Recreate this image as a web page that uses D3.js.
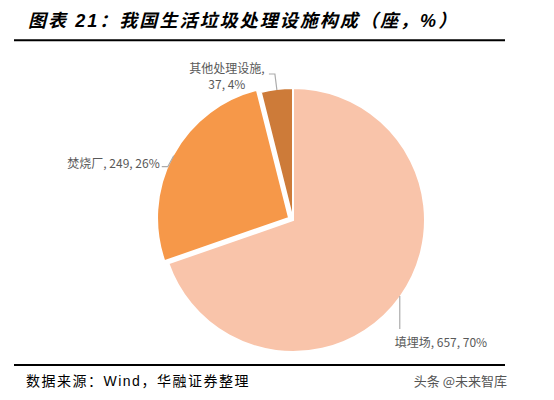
<!DOCTYPE html>
<html><head><meta charset="utf-8">
<script src="https://cdn.jsdelivr.net/npm/d3@7"></script>
<style>
html,body{margin:0;padding:0;background:#fff;}
svg{display:block;}
</style></head>
<body>
<svg id="c" width="554" height="400"></svg>
<script>
const categories = ["填埋场", "焚烧厂", "其他处理设施"];
const values = [657, 249, 37];
const percentLabels = ["70%", "26%", "4%"];
const colors = ["#F9C4AA", "#F69849", "#CD7B39"];

const svg = d3.select("#c");
const cx = 293, cy = 220, R = 132;

// title
svg.append("text")
  .attr("x", 28).attr("y", 27)
  .attr("font-family", "'Liberation Sans','Noto Sans CJK SC',sans-serif")
  .attr("font-size", 18).attr("font-weight", "bold").attr("font-style", "italic")
  .attr("letter-spacing", 2.05)
  .attr("fill", "#000")
  .text("图表 21：我国生活垃圾处理设施构成（座，%）");

svg.append("line").attr("x1", 14).attr("x2", 505).attr("y1", 40.3).attr("y2", 40.3)
  .attr("stroke", "#000").attr("stroke-width", 2);
svg.append("line").attr("x1", 14).attr("x2", 505).attr("y1", 365).attr("y2", 365)
  .attr("stroke", "#000").attr("stroke-width", 2);

svg.append("text")
  .attr("x", 26).attr("y", 386)
  .attr("font-family", "'Liberation Sans','Noto Sans CJK SC',sans-serif")
  .attr("font-size", 14).attr("letter-spacing", 1.5).attr("fill", "#000")
  .text("数据来源：Wind，华融证券整理");

svg.append("text")
  .attr("x", 507).attr("y", 386).attr("text-anchor", "end")
  .attr("font-family", "'Noto Sans CJK SC',sans-serif")
  .attr("font-size", 13).attr("fill", "#555")
  .text("头条 @未来智库");

const pie = d3.pie().sort(null).value(d => d).startAngle(0).endAngle(2 * Math.PI);
const arcs = pie(values);
const arc = d3.arc().innerRadius(0).outerRadius(R);
const explode = [0, 4.5, 0];

const g = svg.append("g").attr("transform", `translate(${cx},${cy})`);

function outerPoint(a, r, off) {
  const m = (a.startAngle + a.endAngle) / 2;
  return [Math.sin(m) * (r + off), -Math.cos(m) * (r + off)];
}

g.selectAll("path.slice").data(arcs).enter().append("path")
  .attr("class", "slice")
  .attr("transform", (d, i) => {
    const [ox, oy] = outerPoint(d, 0, explode[i]);
    return `translate(${ox},${oy})`;
  })
  .attr("d", arc)
  .attr("fill", (d, i) => colors[i])
  .attr("stroke", "#fff").attr("stroke-width", 2).attr("stroke-linejoin", "miter");

// leader lines and labels
const labelFont = "'Noto Sans CJK SC',sans-serif";
const lineColor = "#ABABAB";
const textColor = "#595959";

arcs.forEach((d, i) => {
  const [px, py] = outerPoint(d, R - 1, explode[i]);
  const x0 = cx + px, y0 = cy + py;
  let pts, texts;
  if (i === 0) {
    pts = [[x0, y0], [x0, y0 + 33]];
    texts = [{x: x0 - 5, y: y0 + 51, anchor: "start", t: `${categories[i]}, ${values[i]}, ${percentLabels[i]}`}];
  } else if (i === 1) {
    pts = [[x0, y0], [x0 - 6, y0 + 11], [x0 - 12, y0 + 11]];
    texts = [{x: x0 - 14, y: y0 + 12, anchor: "end", t: `${categories[i]}, ${values[i]}, ${percentLabels[i]}`}];
  } else {
    pts = [[x0, y0], [x0 - 2, y0 - 16], [x0 - 8, y0 - 16]];
    texts = [
      {x: x0 - 50, y: y0 - 17, anchor: "middle", t: `${categories[i]},`},
      {x: x0 - 50, y: y0 - 1, anchor: "middle", t: `${values[i]}, ${percentLabels[i]}`}
    ];
  }
  svg.append("path").attr("d", d3.line()(pts))
    .attr("fill", "none").attr("stroke", lineColor).attr("stroke-width", 1.2);
  texts.forEach(tt => {
    svg.append("text").attr("x", tt.x).attr("y", tt.y)
      .attr("text-anchor", tt.anchor)
      .attr("font-family", labelFont).attr("font-size", 12)
      .attr("fill", textColor).text(tt.t);
  });
});
</script>
</body></html>
